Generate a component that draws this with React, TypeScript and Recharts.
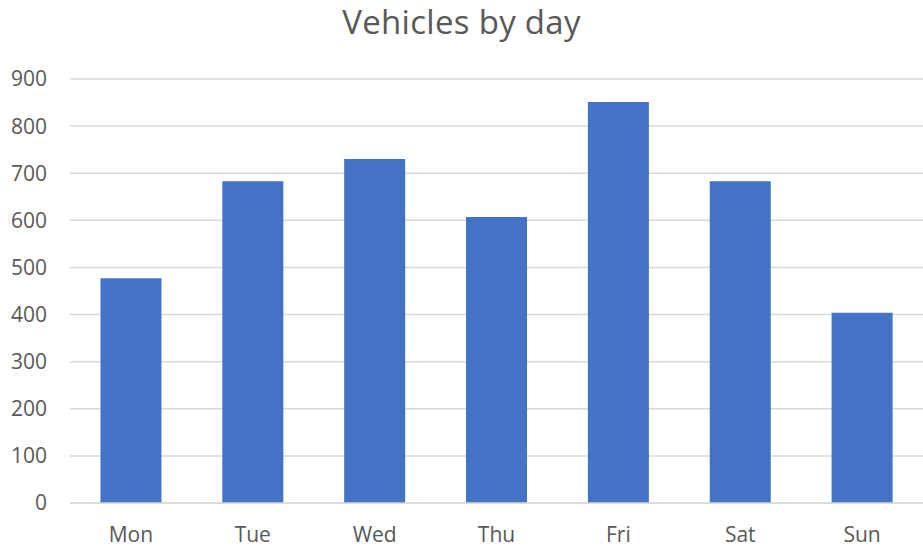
import { BarChart, Bar, XAxis, YAxis, CartesianGrid } from 'recharts';

const days = ['Mon', 'Tue', 'Wed', 'Thu', 'Fri', 'Sat', 'Sun'];
const vehicles = [477, 683, 730, 607, 851, 683, 404];
const yTicks = [0, 100, 200, 300, 400, 500, 600, 700, 800, 900];

const data = days.map((day, i) => ({ day, vehicles: vehicles[i] }));

const font = '"Open Sans", "Liberation Sans", sans-serif';

export default function App() {
  return (
    <div style={{ position: 'absolute', left: 0, top: 0, width: 923, height: 548, background: '#fff', fontFamily: font }}>
      <div
        style={{
          position: 'absolute',
          top: -1,
          left: 0,
          width: 923,
          textAlign: 'center',
          fontSize: 33,
          letterSpacing: 0.3,
          color: '#595959',
        }}
      >
        Vehicles by day
      </div>
      <BarChart
        width={923}
        height={548}
        data={data}
        margin={{ top: 79, right: 0, bottom: 0, left: 0 }}
        barCategoryGap="25%"
      >
        <CartesianGrid vertical={false} stroke="#d9d9d9" strokeWidth={1.5} />
        <XAxis
          dataKey="day"
          height={45}
          axisLine={{ stroke: '#d9d9d9', strokeWidth: 1.5 }}
          tickLine={false}
          tickSize={0}
          tickMargin={24}
          tick={{ fontSize: 21, fill: '#595959', fontFamily: font }}
        />
        <YAxis
          width={70}
          domain={[0, 900]}
          ticks={yTicks}
          axisLine={false}
          tickLine={false}
          tickSize={0}
          tickMargin={23}
          tick={{ fontSize: 21, fill: '#595959', fontFamily: font }}
        />
        <Bar dataKey="vehicles" fill="#4472c4" isAnimationActive={false} />
      </BarChart>
    </div>
  );
}
